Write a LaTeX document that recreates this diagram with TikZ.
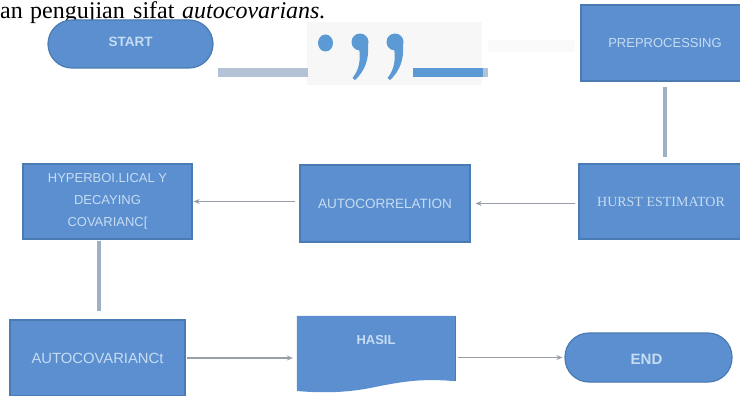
\documentclass[tikz,border=0pt]{standalone}
\usepackage{fontspec}
\setmainfont{Liberation Serif}
\newfontfamily\boxsans{Liberation Sans}
\usetikzlibrary{arrows.meta}

\definecolor{boxblue}{HTML}{5B8FD0}
\definecolor{boxedge}{HTML}{4A7BB3}
\definecolor{boxtext}{HTML}{C6DCF2}
\definecolor{linkgrey}{HTML}{989FA6}
\definecolor{stemgrey}{HTML}{9DB0C4}
\definecolor{markblue}{HTML}{5B9AD4}
\definecolor{barsteel}{HTML}{B3C3D5}
\definecolor{haze}{HTML}{F7F7F7}
\definecolor{hazelight}{HTML}{FAFAFA}

\tikzset{
  flowbox/.style={draw=boxedge, fill=boxblue, line width=1.2pt, inner sep=0pt,
    text=boxtext, font=\boxsans\fontsize{13}{16}\selectfont},
  terminal/.style={flowbox, rounded corners=24pt},
  stem/.style={draw=stemgrey, line width=4.5pt},
  link/.style={draw=linkgrey, line width=1.7pt,
    -{Stealth[length=6pt, width=5pt]}},
  heading/.style={anchor=base west, inner sep=0pt,
    font=\fontsize{24}{28}\selectfont},
  tag/.style={text=boxtext, font=\boxsans\bfseries\fontsize{13.5}{16}\selectfont},
}

\begin{document}
\begin{tikzpicture}[x=1pt, y=-1pt]
\useasboundingbox (0,0) rectangle (740,396);
\fill[white] (0,0) rectangle (740,396);

% running text above the chart
\node[heading] (w1) at (0,18.5) {an};
\node[heading] (w2) at (30,18.5) {pengujian};
\node[heading] (w3) at (133,18.5) {sifat};
\node[heading] (w4) at (182,18.5) {\itshape autocovarians.};

% broken connector between START and PREPROCESSING
\fill[haze] (307,22) rectangle (482,85);
\fill[hazelight] (488,40) rectangle (575,52);
\fill[barsteel] (218,68) rectangle (308,77);
\fill[markblue] (413,68) rectangle (483,77);
\fill[barsteel] (483,68) rectangle (488,77);
\fill[markblue] (325.5,43) ellipse [x radius=7.5, y radius=8.5];
\foreach \cx in {360,395}{
  \fill[markblue] (\cx,42) circle (8.5);
  \fill[markblue] (\cx+8,44) .. controls (\cx+9.5,60) and (\cx+4,72) .. (\cx-5,80)
    -- (\cx-7.5,78) .. controls (\cx-1,70) and (\cx+1,60) .. (\cx-1,48) -- cycle;
}

% terminals
\node[terminal, minimum width=165pt, minimum height=48pt] (start) at (130.5,44) {};
\node[tag] at ([yshift=2pt]start.center) {START};
\node[terminal, minimum width=167pt, minimum height=49pt] (end) at (648.5,357.5) {};
\node[tag, font=\boxsans\bfseries\fontsize{15}{17}\selectfont] at ([xshift=-2pt,yshift=-2pt]end.center) {END};

% process boxes
\node[flowbox, minimum width=162pt, minimum height=76pt] (pre) at (662,43) {\hspace*{6pt}PREPROCESSING};
\node[flowbox, minimum width=164pt, minimum height=75pt, font=\fontsize{14}{16}\selectfont] (hurst) at (661,201.5) {HURST ESTIMATOR};
\node[flowbox, minimum width=170pt, minimum height=77pt, font=\boxsans\fontsize{13.5}{16}\selectfont] (acorr) at (385,203.5) {\raisebox{-4pt}{AUTOCORRELATION}};
\node[flowbox, minimum width=169pt, minimum height=75pt, align=center,
  font=\boxsans\fontsize{13}{22}\selectfont] (hyper) at (107.5,201.5)
  {HYPERBOI.LICAL Y\\DECAYING\\COVARIANC[};
\node[flowbox, minimum width=175pt, minimum height=76pt, font=\boxsans\fontsize{14.8}{16}\selectfont] (acov) at (97.5,358) {\raisebox{-3pt}{AUTOCOVARIANCt}};

% document shape
\node[minimum width=158pt, minimum height=64pt, inner sep=0pt] (hasil) at (376,348) {};
\fill[boxblue] (hasil.north west) -- (hasil.north east) -- ([yshift=-1pt]hasil.south east)
  .. controls (420,378) and (400,382) .. (370,388)
  .. controls (345,393) and (320,393) .. (297,391) -- cycle;
\draw[boxedge, line width=1.2pt] (hasil.north east) -- ([yshift=-1pt]hasil.south east);
\node[tag, font=\boxsans\bfseries\fontsize{13}{15}\selectfont] at ([yshift=8pt]hasil.center) {HASIL};

% connectors
\coordinate (colA) at (665,0);
\coordinate (colB) at (99,0);
\draw[stem, shorten <=5pt, shorten >=6pt] (pre.south -| colA) -- (hurst.north -| colA);
\draw[stem, shorten <=1pt, shorten >=8pt] (hyper.south -| colB) -- (acov.north -| colB);
\draw[link, shorten <=3pt, shorten >=5pt] (hurst.west |- acorr.east) -- (acorr.east);
\draw[link, shorten <=4pt, shorten >=1pt] (acorr.west |- hyper.east) -- (hyper.east);
\draw[link, shorten <=1pt, shorten >=4pt] (acov.east) -- (acov.east -| hasil.west);
\draw[link, shorten <=3pt, shorten >=2pt] (end.west -| hasil.east) -- (end.west);
\end{tikzpicture}
\end{document}
